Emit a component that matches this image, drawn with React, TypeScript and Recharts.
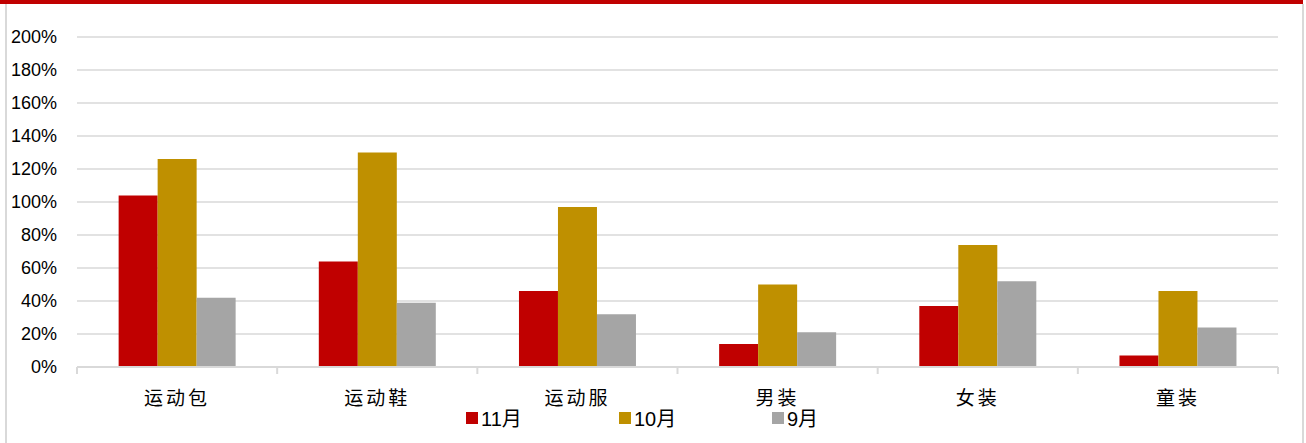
import React from 'react';
import { BarChart, Bar, XAxis, YAxis, CartesianGrid } from 'recharts';

const categories = ['运动包', '运动鞋', '运动服', '男装', '女装', '童装'];
const nov = [104, 64, 46, 14, 37, 7];
const oct = [126, 130, 97, 50, 74, 46];
const sep = [42, 39, 32, 21, 52, 24];
const yTicks = [0, 20, 40, 60, 80, 100, 120, 140, 160, 180, 200];

const series = [
    { key: 'nov', name: '11月', color: '#c00000' },
    { key: 'oct', name: '10月', color: '#bf9000' },
    { key: 'sep', name: '9月', color: '#a5a5a5' },
];

const data = categories.map((c, i) => ({ name: c, nov: nov[i], oct: oct[i], sep: sep[i] }));

const GRID = '#d9d9d9';

const CategoryTick = (props: any) => {
    const { x, y, payload, index, width } = props;
    const half = width / categories.length / 2;
    return (
        <g>
            <line x1={x - half} x2={x - half} y1={y - 8} y2={y - 1} stroke={GRID} strokeWidth={2} />
            {index === categories.length - 1 && (
                <line x1={x + half} x2={x + half} y1={y - 8} y2={y - 1} stroke={GRID} strokeWidth={2} />
            )}
            <text
                x={x}
                y={y + 30}
                textAnchor="middle"
                fill="#000"
                style={{ fontSize: 19, letterSpacing: 3, fontFamily: '"Noto Sans CJK SC", sans-serif' }}
            >
                {payload.value}
            </text>
        </g>
    );
};

export default function App() {
    return (
        <div style={{ position: 'absolute', left: 0, top: 0, width: 1306, height: 443, background: '#fff' }}>
            <div style={{ position: 'absolute', left: 0, top: 0, width: 1303, height: 4, background: '#c00000' }} />
            <div style={{ position: 'absolute', left: 5, top: 4, width: 1295, height: 439, borderLeft: `2px solid ${GRID}`, borderRight: `2px solid ${GRID}` }} />
            <BarChart
                width={1306}
                height={443}
                data={data}
                margin={{ top: 37, right: 28, bottom: 46, left: 0 }}
                barCategoryGap="20.8%"
                barGap={0}
            >
                <CartesianGrid vertical={false} stroke={GRID} strokeWidth={1.5} />
                <XAxis
                    dataKey="name"
                    height={30}
                    axisLine={{ stroke: GRID, strokeWidth: 2 }}
                    tickLine={false}
                    tick={<CategoryTick />}
                    interval={0}
                />
                <YAxis
                    width={77}
                    domain={[0, 200]}
                    ticks={yTicks}
                    interval={0}
                    axisLine={false}
                    tickLine={false}
                    tickFormatter={(v: number) => `${v}%`}
                    tick={{ fill: '#000', fontSize: 18, fontFamily: '"Liberation Sans", sans-serif' }}
                    tickMargin={14}
                />
                {series.map((s) => (
                    <Bar key={s.key} dataKey={s.key} name={s.name} fill={s.color} isAnimationActive={false} />
                ))}
            </BarChart>
            <div style={{ position: 'absolute', top: 403, left: 466, display: 'flex', fontFamily: '"Liberation Sans", "Noto Sans CJK SC", sans-serif', fontSize: 20, color: '#000' }}>
                {series.map((s) => (
                    <div key={s.key} style={{ width: 153, display: 'flex', alignItems: 'center' }}>
                        <span style={{ width: 12, height: 12, background: s.color, display: 'inline-block', marginRight: 3 }} />
                        <span>{s.name}</span>
                    </div>
                ))}
            </div>
        </div>
    );
}
